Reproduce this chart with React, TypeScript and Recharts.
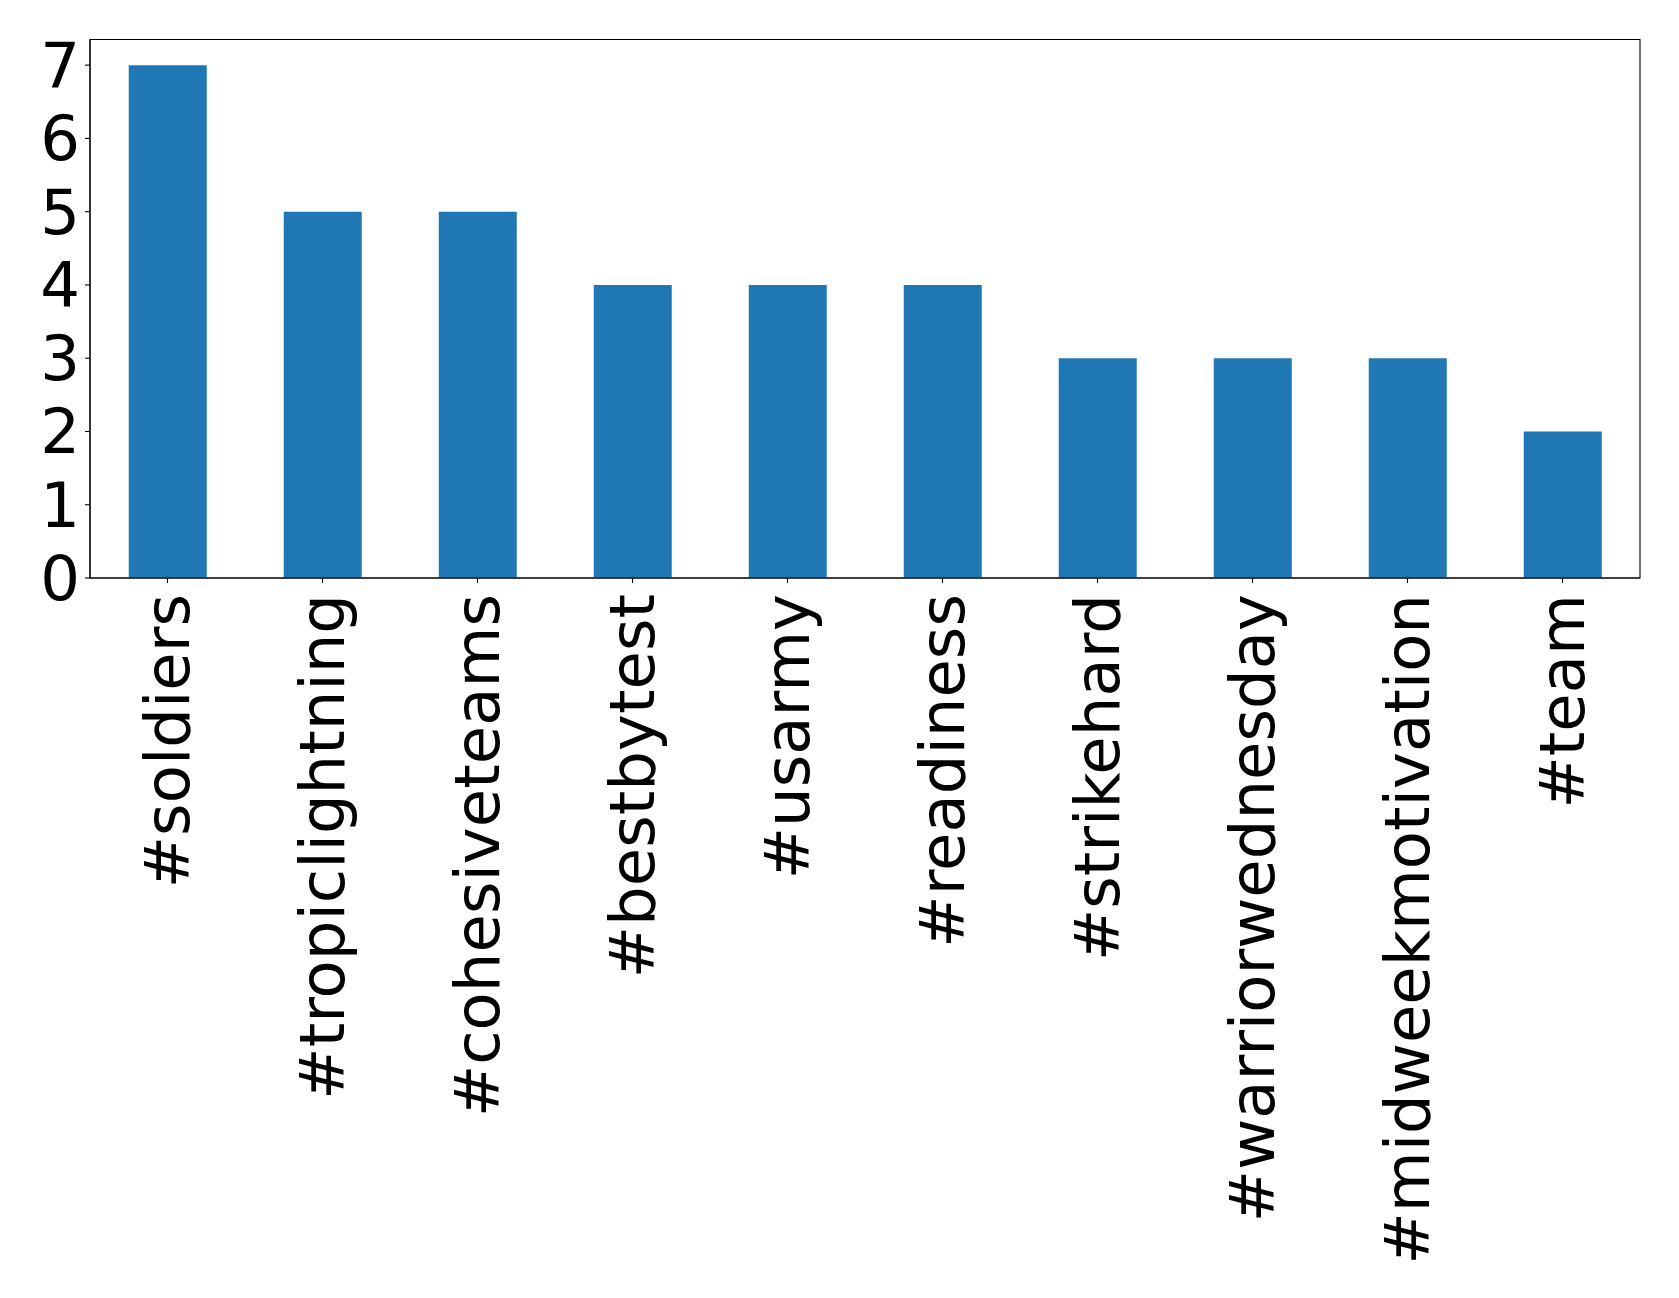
import React from "react"
import { BarChart, Bar, XAxis, YAxis, ReferenceArea } from "recharts"

const tags = [
  "#soldiers",
  "#tropiclightning",
  "#cohesiveteams",
  "#bestbytest",
  "#usarmy",
  "#readiness",
  "#strikehard",
  "#warriorwednesday",
  "#midweekmotivation",
  "#team",
]
const counts = [7, 5, 5, 4, 4, 4, 3, 3, 3, 2]
const yTicks = [0, 1, 2, 3, 4, 5, 6, 7]
const yMax = 7.35

const data = tags.map((tag, i) => ({ tag, count: counts[i] }))

const FONT = "'DejaVu Sans', sans-serif"
const FONT_SIZE = 62.5

function RotatedTick({ x, y, payload }: any) {
  const ty = y + 6
  return (
    <text
      x={x}
      y={ty}
      transform={`rotate(-90, ${x}, ${ty})`}
      textAnchor="end"
      dominantBaseline="central"
      fontFamily={FONT}
      fontSize={FONT_SIZE}
      fill="#000"
    >
      {payload.value}
    </text>
  )
}

function YTick({ x, y, payload }: any) {
  return (
    <text
      x={x}
      y={y}
      dy="0.35em"
      textAnchor="end"
      fontFamily={FONT}
      fontSize={FONT_SIZE}
      fill="#000"
    >
      {payload.value}
    </text>
  )
}

export default function App() {
  return (
    <div style={{ position: "absolute", left: 0, top: 0, background: "#fff" }}>
      <BarChart
        width={1679}
        height={1298}
        data={data}
        margin={{ top: 39.5, right: 39, left: 0, bottom: 0 }}
        barCategoryGap="25%"
      >
        <XAxis
          dataKey="tag"
          interval={0}
          height={720}
          tickSize={5}
          tickMargin={5}
          tick={<RotatedTick />}
          stroke="#000"
          axisLine={{ stroke: "#000", strokeWidth: 1.1 }}
          tickLine={{ stroke: "#000", strokeWidth: 1.1 }}
        />
        <YAxis
          width={90}
          domain={[0, yMax]}
          ticks={yTicks}
          interval={0}
          tickSize={5}
          tickMargin={5}
          tick={<YTick />}
          stroke="#000"
          axisLine={{ stroke: "#000", strokeWidth: 1.1 }}
          tickLine={{ stroke: "#000", strokeWidth: 1.1 }}
        />
        <Bar dataKey="count" fill="#1f77b4" isAnimationActive={false} />
        <ReferenceArea
          x1={tags[0]}
          x2={tags[tags.length - 1]}
          y1={0}
          y2={yMax}
          fill="none"
          fillOpacity={0}
          stroke="#000"
          strokeWidth={1.1}
          ifOverflow="visible"
        />
      </BarChart>
    </div>
  )
}
